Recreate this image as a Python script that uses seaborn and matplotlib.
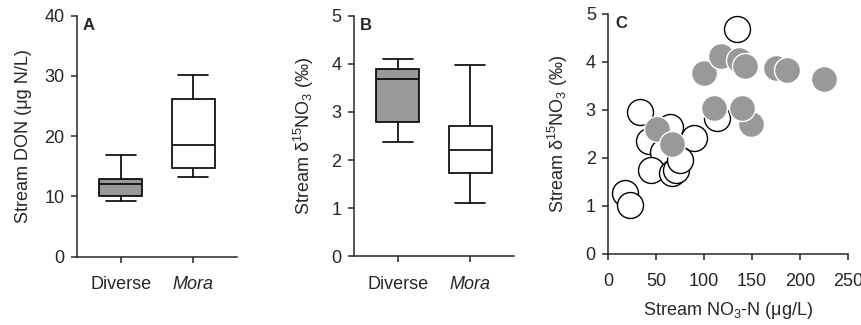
import pandas as pd
import numpy as np
import seaborn as sns
import matplotlib.pyplot as plt

# Data ----------------------------------------------------------------------
groups = ["Diverse", "Mora"]

# five-number summaries (min, q1, median, q3, max) per group
don_diverse = [9.2, 10.0, 12.1, 12.85, 16.8]
don_mora = [13.2, 14.8, 18.6, 26.2, 30.1]

d15n_diverse = [2.37, 2.79, 3.69, 3.90, 4.09]
d15n_mora = [1.10, 1.73, 2.21, 2.71, 3.98]

# panel C: open circles (Mora) and grey circles (Diverse)
open_no3 = [134, 33, 43, 64, 89, 57, 45, 66, 71, 75, 17, 23, 113]
open_d15n = [4.68, 2.95, 2.35, 2.65, 2.42, 2.12, 1.76, 1.69, 1.76, 1.95, 1.27, 1.02, 2.83]
grey_no3 = [100, 118, 137, 143, 175, 187, 225, 110, 149, 140, 51, 67]
grey_d15n = [3.78, 4.12, 4.05, 3.92, 3.88, 3.83, 3.64, 3.04, 2.71, 3.05, 2.60, 2.30]

GREY = "#999999"

don = pd.DataFrame({
    "group": ["Diverse"] * 5 + ["Mora"] * 5,
    "value": don_diverse + don_mora,
})
d15n = pd.DataFrame({
    "group": ["Diverse"] * 5 + ["Mora"] * 5,
    "value": d15n_diverse + d15n_mora,
})

# Style ---------------------------------------------------------------------
sns.set_style("ticks")
plt.rcParams["font.family"] = ["Liberation Sans", "DejaVu Sans"]
plt.rcParams["mathtext.fontset"] = "custom"
plt.rcParams["mathtext.rm"] = "Liberation Sans"
plt.rcParams["mathtext.it"] = "Liberation Sans:italic"
plt.rcParams["mathtext.bf"] = "Liberation Sans:bold"
plt.rcParams["mathtext.default"] = "rm"
plt.rcParams["axes.linewidth"] = 1.1
plt.rcParams["xtick.major.width"] = 1.1
plt.rcParams["ytick.major.width"] = 1.1
plt.rcParams["xtick.major.size"] = 4
plt.rcParams["ytick.major.size"] = 4
plt.rcParams["xtick.labelsize"] = 13
plt.rcParams["ytick.labelsize"] = 13
plt.rcParams["axes.labelsize"] = 13

fig = plt.figure(figsize=(8.62, 3.25), dpi=100)
axA = fig.add_axes([0.0893, 0.210, 0.1856, 0.742])
axB = fig.add_axes([0.4107, 0.211, 0.1856, 0.741])
axC = fig.add_axes([0.7057, 0.2185, 0.2777, 0.7385])


def box_panel(ax, df, ylim, yticks, ylabel, letter, labelpad):
    sns.boxplot(data=df, x="group", y="value", hue="group", order=groups,
                palette={"Diverse": GREY, "Mora": "white"}, legend=False,
                linecolor="black", linewidth=1.2, width=0.6, whis=(0, 100),
                showfliers=False, capwidths=0.41, ax=ax)
    ax.set_xlim(-0.6, 1.6)
    ax.set_ylim(*ylim)
    ax.set_yticks(yticks)
    ax.set_xlabel("")
    ax.set_ylabel(ylabel, labelpad=labelpad)
    ax.set_xticks([0, 1])
    ax.set_xticklabels(groups)
    ax.get_xticklabels()[1].set_style("italic")
    ax.tick_params(axis="x", pad=10)
    ax.tick_params(axis="y", pad=5)
    ax.text(0.035, 0.99, letter, transform=ax.transAxes, va="top",
            ha="left", fontsize=12, fontweight="bold")
    sns.despine(ax=ax)


box_panel(axA, don, (0, 40), [0, 10, 20, 30, 40],
          "Stream DON (\u03bcg N/L)", "A", 9)
box_panel(axB, d15n, (0, 5), [0, 1, 2, 3, 4, 5],
          "Stream \u03b4$^{15}$NO$_3$ (\u2030)", "B", 11)

# Panel C scatter -----------------------------------------------------------
sns.scatterplot(x=open_no3, y=open_d15n, s=350, color="white",
                edgecolor="black", linewidth=1.0, ax=axC, zorder=2)
sns.scatterplot(x=grey_no3, y=grey_d15n, s=350, color=GREY,
                edgecolor="white", linewidth=1.0, ax=axC, zorder=3)
axC.set_xlim(0, 250)
axC.set_ylim(0, 5)
axC.set_xticks([0, 50, 100, 150, 200, 250])
axC.set_yticks([0, 1, 2, 3, 4, 5])
axC.set_xlabel("Stream NO$_3$-N (\u03bcg/L)", labelpad=7)
axC.set_ylabel("Stream \u03b4$^{15}$NO$_3$ (\u2030)", labelpad=11)
axC.tick_params(axis="x", pad=10)
axC.tick_params(axis="y", pad=5)
axC.text(0.03, 0.99, "C", transform=axC.transAxes, va="top", ha="left",
         fontsize=12, fontweight="bold")
sns.despine(ax=axC)

fig.savefig("out.png", dpi=100)
